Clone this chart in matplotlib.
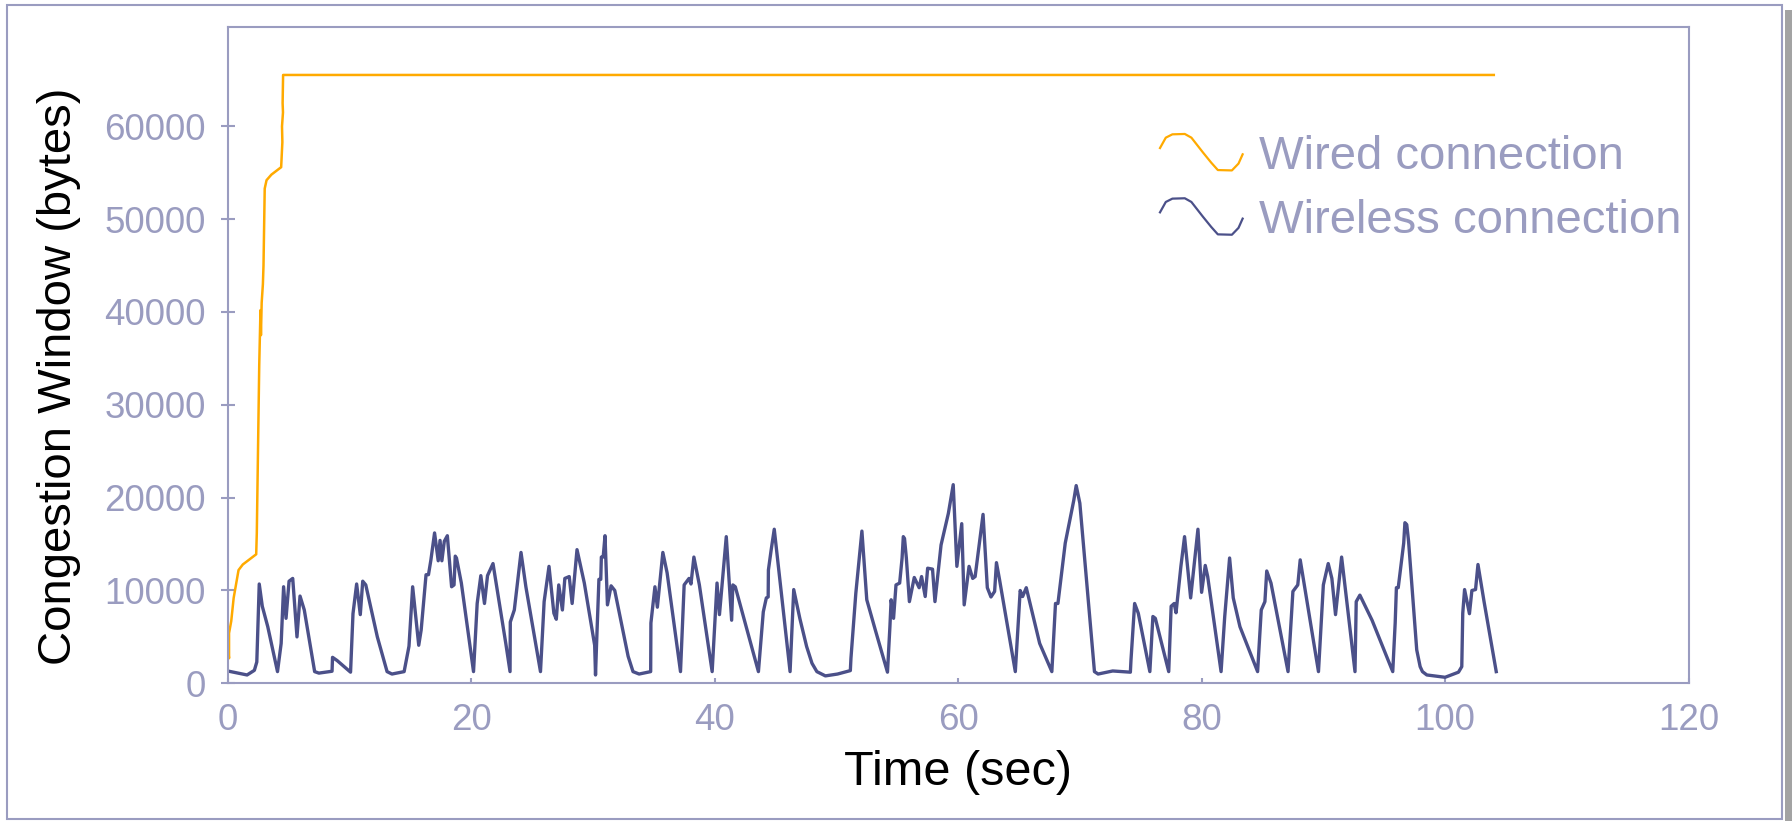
import numpy as np
import matplotlib
matplotlib.use("Agg")
import matplotlib.pyplot as plt
from matplotlib.legend_handler import HandlerBase
from matplotlib.lines import Line2D
from matplotlib.patches import Rectangle

plt.rcParams['font.family'] = ['Liberation Sans', 'DejaVu Sans']

# ---------------- data ----------------
wired_t = [0.0, 0.12, 0.12, 0.3, 0.5, 0.9, 1.25, 2.35, 2.4, 2.6, 2.7, 2.74, 2.8, 2.9,
           2.95, 3.05, 3.2, 3.6, 4.4, 4.5, 4.47, 4.55, 4.52, 4.56, 104.0]
wired_v = [4100, 2700, 5400, 6700, 9200, 12200, 12800, 13900, 16200, 34300, 40200, 37500,
           41000, 43000, 45000, 53300, 54200, 54800, 55600, 58300, 60000, 61500, 62500,
           65535, 65535]

wireless_t = [0.0, 1.6, 2.2, 2.4, 2.6, 2.85, 3.3, 4.1, 4.4, 4.6, 4.8, 5.05, 5.35, 5.7, 5.95,
              6.3, 7.15, 7.5, 8.58, 8.62, 9.0, 10.1, 10.3, 10.6, 10.9, 11.1, 11.35, 12.3,
              13.1, 13.5, 14.5, 14.9, 15.2, 15.7, 15.9, 16.3, 16.5, 16.7, 17.0, 17.3, 17.45,
              17.6, 17.8, 18.05, 18.4, 18.6, 18.7, 18.8, 19.2, 20.2, 20.5, 20.8, 21.1, 21.35,
              21.8, 22.85, 23.2, 23.22, 23.55, 24.1, 24.5, 25.7, 26.0, 26.4, 26.8, 27.0,
              27.2, 27.5, 27.7, 28.06, 28.3, 28.7, 29.3, 30.15, 30.22, 30.3, 30.5, 30.65,
              30.7, 30.85, 31.0, 31.2, 31.5, 31.8, 32.9, 33.3, 33.8, 34.75, 34.77, 35.1,
              35.3, 35.75, 36.1, 37.2, 37.5, 37.9, 38.06, 38.3, 38.75, 39.8, 40.2, 40.4,
              40.96, 41.4, 41.5, 41.7, 43.6, 44.0, 44.25, 44.4, 44.42, 44.65, 44.9, 46.2,
              46.5, 47.0, 47.56, 48.0, 48.4, 49.1, 50.1, 51.15, 51.2, 51.6, 52.1, 52.5,
              53.2, 54.2, 54.4, 54.5, 54.7, 54.9, 55.2, 55.4, 55.5, 55.6, 55.75, 56.0,
              56.4, 56.8, 57.0, 57.3, 57.5, 57.9, 58.1, 58.6, 59.2, 59.6, 59.9, 60.3,
              60.5, 60.9, 61.2, 61.4, 62.05, 62.4, 62.7, 63.0, 63.15, 63.4, 64.7, 65.1,
              65.3, 65.6, 66.7, 67.7, 68.0, 68.2, 68.8, 69.5, 69.7, 70.0, 71.2, 71.5,
              72.7, 74.15, 74.2, 74.5, 74.8, 75.75, 76.0, 76.2, 77.3, 77.5, 77.75, 77.9,
              78.3, 78.6, 79.1, 79.4, 79.7, 80.0, 80.3, 80.5, 81.6, 81.9, 82.3, 82.6,
              83.15, 84.6, 84.9, 85.2, 85.35, 85.7, 87.1, 87.5, 87.9, 88.1, 89.6, 90.0,
              90.4, 90.7, 91.0, 91.5, 92.6, 92.7, 93.0, 94.0, 95.7, 95.9, 96.0, 96.15,
              96.6, 96.7, 96.85, 97.0, 97.67, 97.95, 98.14, 98.5, 100.0, 101.1, 101.37,
              101.45, 101.6, 102.0, 102.2, 102.5, 102.7, 103.2, 104.2]
wireless_v = [1330, 900, 1400, 2300, 10700, 8300, 6100, 1260, 4300, 10400, 7000, 11000,
              11300, 5000, 9400, 7900, 1260, 1100, 1300, 2800, 2450, 1200, 7500, 10700,
              7400, 11000, 10600, 5000, 1260, 1000, 1260, 4000, 10400, 4100, 5750, 11700,
              11700, 13300, 16200, 13200, 15400, 13200, 15300, 15900, 10400, 10600, 13700,
              13500, 10800, 1260, 8600, 11600, 8600, 11600, 12900, 4300, 1260, 6600, 7900,
              14100, 10400, 1260, 8800, 12600, 7550, 6900, 10600, 7900, 11300, 11500, 8600,
              14400, 10800, 4100, 900, 4000, 11200, 11200, 13600, 13600, 15900, 8450,
              10500, 10000, 2900, 1260, 1000, 1260, 6500, 10400, 8200, 14100, 11900, 1260,
              10600, 11300, 10700, 13600, 10600, 1260, 10800, 7400, 15800, 6800, 10600,
              10400, 1260, 7700, 9200, 9300, 12200, 14400, 16600, 1260, 10100, 7000, 3960,
              2160, 1260, 800, 1000, 1370, 2700, 9700, 16400, 9000, 5750, 1200, 6100, 9000,
              7000, 10600, 10800, 13500, 15800, 15600, 13500, 8800, 11400, 10300, 11500,
              9350, 12400, 12300, 8800, 14900, 18300, 21400, 12600, 17200, 8450, 12600,
              11300, 11500, 18200, 10300, 9300, 9900, 13000, 11200, 1260, 10000, 9350,
              10300, 4300, 1260, 8600, 8600, 15100, 19700, 21300, 19400, 1260, 1000, 1330,
              1200, 2500, 8600, 7550, 1260, 7200, 7000, 1260, 8300, 8600, 7600, 12600,
              15800, 9200, 12900, 16600, 9800, 12700, 11500, 1260, 7200, 13500, 9200,
              6100, 1260, 7900, 8800, 12100, 10800, 1260, 9900, 10600, 13300, 1260, 10600,
              12900, 11300, 7400, 13600, 1260, 8800, 9500, 6800, 1260, 6500, 10300, 10300,
              15100, 17300, 17100, 15300, 3600, 1800, 1260, 900, 650, 1200, 1800, 7550,
              10100, 7500, 10000, 10100, 12800, 8800, 1260]

x_ticks = [0, 20, 40, 60, 80, 100, 120]
y_ticks = [0, 10000, 20000, 30000, 40000, 50000, 60000]
series_labels = ['Wired connection', 'Wireless connection']

# ---------------- style ----------------
ORANGE = '#FFAA00'
NAVY = '#4B5089'
AX = '#9A9CC0'

# legend glyph shape (wave icon)
WAVE_X = [0.0, 0.07, 0.15, 0.30, 0.38, 0.52, 0.62, 0.70, 0.87, 0.95, 1.0]
WAVE_Y = [0.24, 0.80, 0.98, 1.0, 0.8, 0.0, -0.55, -0.95, -0.97, -0.6, -0.1]


class WaveHandler(HandlerBase):
    def create_artists(self, legend, orig_handle, xdescent, ydescent, width, height,
                       fontsize, trans):
        xs = -xdescent + np.array(WAVE_X) * width
        ys = -ydescent + height / 2 + np.array(WAVE_Y) * height * 0.56
        ln = Line2D(xs, ys, color=orig_handle.get_color(), lw=1.6, transform=trans)
        return [ln]


fig = plt.figure(figsize=(17.92, 8.21), dpi=100)
fig.patch.set_facecolor('white')
ax = fig.add_axes([0.127, 0.1677, 0.8153, 0.7994])

l1, = ax.plot(wired_t, wired_v, color=ORANGE, lw=1.8, label=series_labels[0])
l2, = ax.plot(wireless_t, wireless_v, color=NAVY, lw=2.4, label=series_labels[1],
              solid_joinstyle='round')

ax.set_xlim(0, 120)
ax.set_ylim(0, 70700)
ax.set_xticks(x_ticks)
ax.set_yticks(y_ticks)
ax.set_xticklabels([str(v) for v in x_ticks])
ax.set_yticklabels([str(v) for v in y_ticks])

ax.tick_params(axis='y', direction='inout', length=9.5, width=1.5, color=AX,
               labelcolor=AX, labelsize=26.5, pad=11)
ax.tick_params(axis='x', direction='in', length=3.5, width=1.5, color=AX,
               labelcolor=AX, labelsize=26.5, pad=14.5)
for s in ax.spines.values():
    s.set_color(AX)
    s.set_linewidth(1.5)

ax.set_xlabel('Time (sec)', fontsize=35, color='black', labelpad=8)
ax.set_ylabel('Congestion Window (bytes)', fontsize=34, color='black')
ax.yaxis.set_label_coords(-0.1003, 0.468)

leg = ax.legend([l1, l2], series_labels, handler_map={Line2D: WaveHandler()},
                loc='upper left', bbox_to_anchor=(1160 / 1792, 1 - 135 / 821),
                bbox_transform=fig.transFigure, frameon=False, fontsize=34,
                labelcolor=AX, borderpad=0, borderaxespad=0, handlelength=1.75,
                handletextpad=0.34, labelspacing=0.43)

# outer frame and shadow
fig.patches.append(Rectangle((7 / 1792, 1 - 819 / 821), (1782 - 7) / 1792, (819 - 5) / 821,
                             transform=fig.transFigure, fill=False, edgecolor=AX, lw=1.5))
fig.patches.append(Rectangle((1784.5 / 1792, 0), 7.5 / 1792, 1 - 10 / 821,
                             transform=fig.transFigure, facecolor='#a3a3a3',
                             edgecolor='none'))

fig.savefig('out.png', dpi=100, facecolor='white')
